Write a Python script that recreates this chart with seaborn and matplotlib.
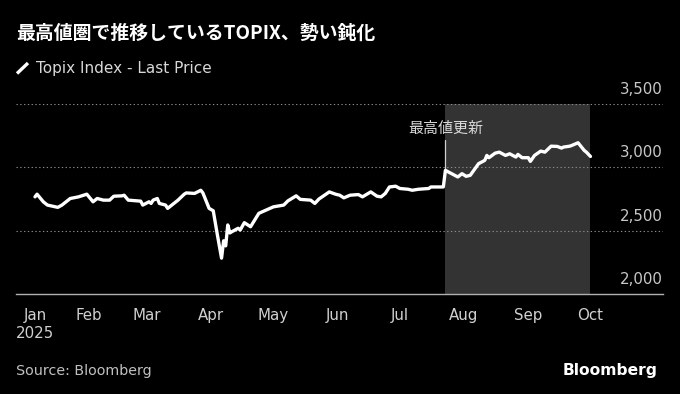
import matplotlib
matplotlib.use("Agg")
import matplotlib.pyplot as plt
from matplotlib.lines import Line2D
import seaborn as sns
import pandas as pd

# ---- data ----
dates = [
    "2025-01-06", "2025-01-07", "2025-01-10", "2025-01-12", "2025-01-17", "2025-01-19",
    "2025-01-23", "2025-01-27", "2025-01-31", "2025-02-03", "2025-02-05", "2025-02-08",
    "2025-02-11", "2025-02-13", "2025-02-17", "2025-02-18", "2025-02-20", "2025-02-26",
    "2025-02-27", "2025-03-02", "2025-03-03", "2025-03-04", "2025-03-06", "2025-03-07",
    "2025-03-10", "2025-03-11", "2025-03-13", "2025-03-16", "2025-03-19", "2025-03-20",
    "2025-03-24", "2025-03-27", "2025-03-28", "2025-03-31", "2025-04-02", "2025-04-04",
    "2025-04-06", "2025-04-07", "2025-04-08", "2025-04-09", "2025-04-10", "2025-04-11",
    "2025-04-14", "2025-04-15", "2025-04-17", "2025-04-20", "2025-04-22", "2025-04-24",
    "2025-05-01", "2025-05-06", "2025-05-08", "2025-05-12", "2025-05-14", "2025-05-19",
    "2025-05-21", "2025-05-23", "2025-05-28", "2025-05-31", "2025-06-02", "2025-06-04",
    "2025-06-07", "2025-06-11", "2025-06-13", "2025-06-17", "2025-06-20", "2025-06-22",
    "2025-06-24", "2025-06-26", "2025-06-29", "2025-07-01", "2025-07-05", "2025-07-07",
    "2025-07-10", "2025-07-15", "2025-07-16", "2025-07-22", "2025-07-23", "2025-07-26",
    "2025-07-29", "2025-07-31", "2025-08-02", "2025-08-04", "2025-08-08", "2025-08-11",
    "2025-08-12", "2025-08-13", "2025-08-16", "2025-08-18", "2025-08-21", "2025-08-23",
    "2025-08-26", "2025-08-27", "2025-08-29", "2025-09-01", "2025-09-02", "2025-09-04",
    "2025-09-07", "2025-09-09", "2025-09-12", "2025-09-15", "2025-09-17", "2025-09-18",
    "2025-09-21", "2025-09-22", "2025-09-25", "2025-09-28", "2025-09-29", "2025-10-01",
]
values = [
    2767, 2788, 2728, 2702, 2684, 2702,
    2754, 2767, 2788, 2728, 2754, 2741,
    2741, 2772, 2775, 2780, 2741, 2733,
    2702, 2728, 2715, 2741, 2754, 2715,
    2702, 2676, 2702, 2741, 2788, 2798,
    2794, 2819, 2798, 2676, 2657, 2466,
    2283, 2420, 2380, 2545, 2482, 2492,
    2519, 2505, 2563, 2531, 2584, 2637,
    2688, 2702, 2735, 2775, 2747, 2741,
    2715, 2750, 2806, 2788, 2780, 2759,
    2780, 2785, 2767, 2806, 2772, 2767,
    2794, 2845, 2851, 2833, 2827, 2819,
    2827, 2833, 2845, 2845, 2976, 2950,
    2924, 2950, 2929, 2937, 3029, 3055,
    3094, 3076, 3112, 3120, 3094, 3107,
    3081, 3102, 3076, 3076, 3047, 3094,
    3128, 3120, 3167, 3165, 3152, 3160,
    3167, 3173, 3194, 3133, 3120, 3086,
]
tick_dates = ["2025-01-06", "2025-02-01", "2025-03-01", "2025-04-01", "2025-05-01",
              "2025-06-01", "2025-07-01", "2025-08-01", "2025-09-01", "2025-10-01"]
tick_labels = ["Jan\n2025", "Feb", "Mar", "Apr", "May", "Jun", "Jul", "Aug", "Sep", "Oct"]
y_ticks = [2000, 2500, 3000, 3500]
y_labels = ["2,000", "2,500", "3,000", "3,500"]
highlight_start = "2025-07-23"
highlight_end = "2025-10-01"
annot_date = "2025-07-23"
annot_text = "最高値更新"
title = "最高値圏で推移しているTOPIX、勢い鈍化"
series_name = "Topix Index - Last Price"
source = "Source: Bloomberg"

# ---- style ----
sns.set_style("dark", {"axes.facecolor": "black", "figure.facecolor": "black"})
plt.rcParams["font.family"] = ["Noto Sans CJK JP", "DejaVu Sans"]

fig = plt.figure(figsize=(6.8, 3.94), dpi=100, facecolor="black")
ax = fig.add_axes([16 / 680, 100 / 394, 646.6 / 680, 190 / 394])
ax.set_facecolor("black")

df = pd.DataFrame({"date": pd.to_datetime(dates), "value": values})

ax.axvspan(pd.Timestamp(highlight_start), pd.Timestamp(highlight_end),
           color="#333333", lw=0, zorder=0)
for y in y_ticks[1:]:
    ax.axhline(y, color="#8a8a8a", ls=(0, (1.2, 2.2)), lw=0.8, zorder=1)

sns.lineplot(data=df, x="date", y="value", ax=ax, color="white", lw=2.4, zorder=3)

ax.set_ylim(y_ticks[0], y_ticks[-1])
ax.set_xlim(pd.Timestamp("2024-12-27 20:00"), pd.Timestamp("2025-11-04 19:00"))

for s in ["top", "left", "right"]:
    ax.spines[s].set_visible(False)
ax.spines["bottom"].set_color("#b0b0b0")
ax.spines["bottom"].set_linewidth(1.0)

ax.set_xticks(pd.to_datetime(tick_dates))
ax.set_xticklabels(tick_labels, fontsize=10.8, color="#d0d0d0",
                   family=["DejaVu Sans"], linespacing=1.3)
ax.tick_params(axis="x", colors="#b0b0b0", length=5, width=1, pad=5,
               direction="out", labelcolor="#d0d0d0")
ax.set_yticks([])
ax.set_xlabel("")
ax.set_ylabel("")
ax.grid(False)

for v, lab in zip(y_ticks, y_labels):
    ax.annotate(lab, xy=(1.0, v), xycoords=ax.get_yaxis_transform(),
                xytext=(0, 10.5), textcoords="offset points",
                ha="right", va="center", fontsize=10.8, color="#c8c8c8",
                family=["DejaVu Sans"])

# annotation for record high
ad = pd.Timestamp(annot_date)
ax.plot([ad, ad], [2976, 3212], color="#d0d0d0", lw=0.9, zorder=2)
ax.text(ad, 3250, annot_text, ha="center", va="bottom", fontsize=10.8,
        color="#d8d8d8")

# title, legend, source
fig.text(16 / 680, 1 - 33 / 394, title, ha="left", va="center",
         fontsize=13.6, fontweight="bold", color="white")
fig.add_artist(Line2D([17 / 680, 28 / 680], [1 - 73.5 / 394, 1 - 63 / 394],
                      color="white", lw=2.4, solid_capstyle="butt"))
fig.text(36 / 680, 1 - 68 / 394, series_name, ha="left", va="center",
         fontsize=11, color="#d8d8d8", family=["DejaVu Sans"])
fig.text(16 / 680, 1 - 371 / 394, source, ha="left", va="center",
         fontsize=10.3, color="#c0c0c0", family=["DejaVu Sans"])
fig.text(658 / 680, 1 - 370 / 394, "Bloomberg", ha="right", va="center",
         fontsize=11.2, fontweight="bold", color="white", family=["DejaVu Sans"])

fig.savefig("out.png", dpi=100, facecolor="black")
